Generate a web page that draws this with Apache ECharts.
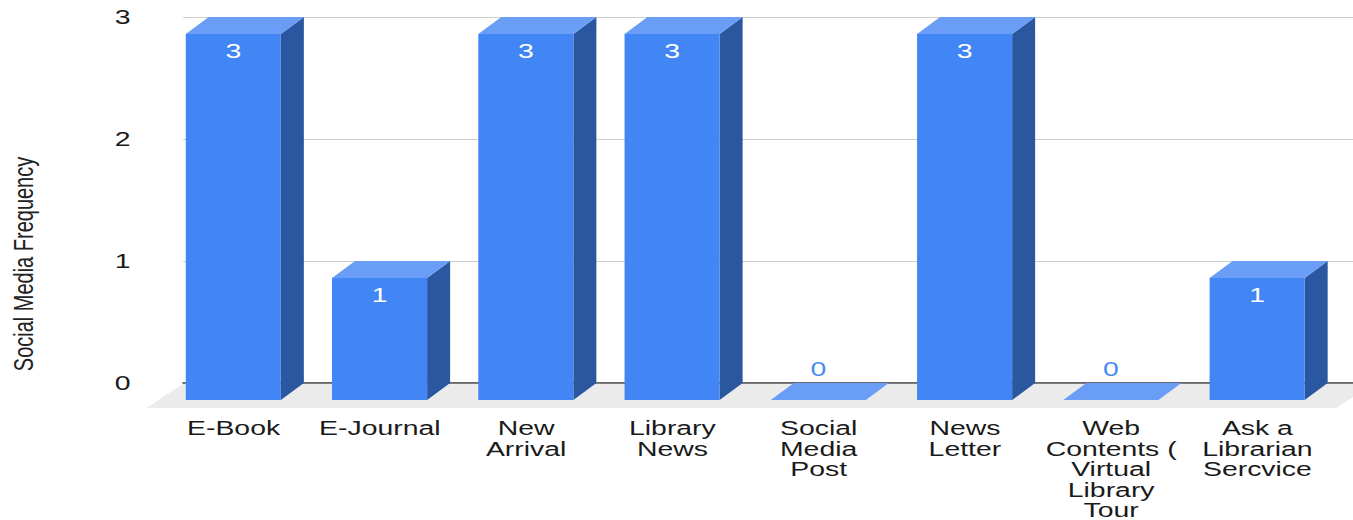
<!DOCTYPE html>
<html>
<head>
<meta charset="utf-8">
<script src="https://cdn.jsdelivr.net/npm/echarts@6/dist/echarts.min.js"></script>
<style>
  html, body { margin: 0; padding: 0; background: #fff; overflow: hidden; }
  #wrap { width: 1353px; height: 520px; overflow: hidden; }
  /* the chart is laid out narrow and widened horizontally, giving the wide lettering */
  #chart { width: 953px; height: 520px; transform: scaleX(1.42); transform-origin: 0 0; }
</style>
</head>
<body>
<div id="wrap"><div id="chart"></div></div>
<script>
const categories = ['E-Book', 'E-Journal', 'New Arrival', 'Library News', 'Social Media Post',
  'News Letter', 'Web Contents ( Virtual Library Tour', 'Ask a Librarian Sercvice'];
const tickLabels = ['E-Book', 'E-Journal', 'New\nArrival', 'Library\nNews', 'Social\nMedia\nPost',
  'News\nLetter', 'Web\nContents (\nVirtual\nLibrary\nTour', 'Ask a\nLibrarian\nSercvice'];
const frequency = [3, 1, 3, 3, 0, 3, 0, 1];
const yTicks = [0, 1, 2, 3];
const yAxisTitle = 'Social Media Frequency';

const FONT = "'Liberation Sans', Arial, sans-serif";
const DX = 16.2;   // horizontal depth of the bar boxes
const DY = 17;     // vertical depth of the bar boxes
const FLOOR_DX = 26, FLOOR_DY = 25;
const FRONT = '#4285F4', TOP = '#6A9DF6', SIDE = '#2B56A0';

const chart = echarts.init(document.getElementById('chart'), null, { renderer: 'svg' });

function renderBar(params, api) {
  const i = api.value(0), v = api.value(1);
  const top = api.coord([i, v]);
  const base = api.coord([i, 0]);
  const band = api.size([1, 0])[0];
  const w = band * 0.65;
  const bx0 = top[0] - w / 2, bx1 = top[0] + w / 2;
  const fx0 = bx0 - DX, fx1 = bx1 - DX;
  const yT = top[1], yB = base[1];
  const children = [];
  if (v > 0) {
    children.push({ type: 'polygon', shape: { points: [[fx1, yT + DY], [bx1, yT], [bx1, yB], [fx1, yB + DY]] },
      style: { fill: SIDE } });
    children.push({ type: 'rect', shape: { x: fx0, y: yT + DY, width: w, height: yB - yT },
      style: { fill: FRONT } });
  }
  children.push({ type: 'polygon', shape: { points: [[fx0, yT + DY], [fx1, yT + DY], [bx1, yT], [bx0, yT]] },
    style: { fill: TOP } });
  children.push({
    type: 'text',
    x: fx0 + w / 2,
    y: v > 0 ? yT + DY + 17 : yB - 14,
    style: { text: String(v), fill: v > 0 ? '#ffffff' : '#4A8AF4', font: '20px ' + FONT,
      textAlign: 'center', textVerticalAlign: 'middle' }
  });
  return { type: 'group', children };
}

function renderFloor(params, api) {
  const cs = params.coordSys;
  const y0 = cs.y + cs.height;
  const xl = cs.x, xr = cs.x + cs.width + 14;
  return {
    type: 'polygon',
    shape: { points: [[xl, y0 + 0.8], [xr, y0 + 0.8], [xr - FLOOR_DX, y0 + FLOOR_DY], [xl - FLOOR_DX, y0 + FLOOR_DY]] },
    style: { fill: '#EBEBEB' }
  };
}

chart.setOption({
  animation: false,
  grid: { left: 129, right: 0, top: 17, bottom: 137, containLabel: false, outerBoundsMode: 'none' },
  xAxis: {
    type: 'category',
    data: categories,
    axisTick: { show: false },
    axisLine: { show: true, lineStyle: { color: '#333', width: 1.5 } },
    axisLabel: {
      interval: 0,
      margin: 35,
      padding: [0, 32, 0, 0],
      lineHeight: 20.5,
      fontSize: 20,
      fontFamily: FONT,
      color: '#1a1a1a',
      hideOverlap: false,
      formatter: (val, idx) => tickLabels[idx]
    }
  },
  yAxis: {
    type: 'value',
    min: yTicks[0],
    max: yTicks[yTicks.length - 1],
    interval: 1,
    axisLine: { show: false },
    axisTick: { show: false },
    splitLine: { lineStyle: { color: '#CCCCCC', width: 1 } },
    axisLabel: { margin: 37, fontSize: 20, fontFamily: FONT, color: '#1a1a1a' }
  },
  graphic: [{
    type: 'text',
    x: 16,
    y: 264,
    rotation: Math.PI / 2,
    style: { text: yAxisTitle, fill: '#222', font: '20px ' + FONT, textAlign: 'center', textVerticalAlign: 'middle' }
  }],
  series: [
    { type: 'custom', z: 1, renderItem: renderFloor, data: [[0, 0]], silent: true },
    {
      type: 'custom', z: 3,
      renderItem: renderBar,
      encode: { x: 0, y: 1 },
      data: frequency.map((v, i) => [i, v])
    }
  ]
});
</script>
</body>
</html>
